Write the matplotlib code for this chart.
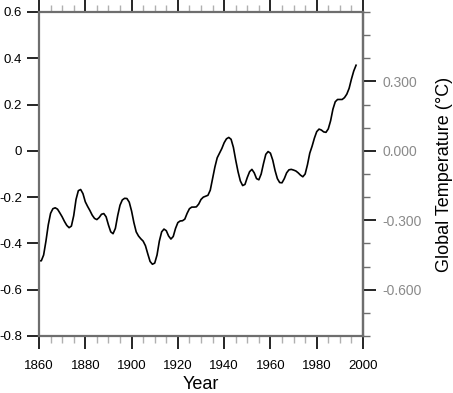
import numpy as np
import matplotlib
matplotlib.use("Agg")
import matplotlib.pyplot as plt
from matplotlib.ticker import MultipleLocator, FixedLocator, FuncFormatter

plt.rcParams['font.family'] = ['Liberation Sans', 'DejaVu Sans']
plt.rcParams['axes.unicode_minus'] = False

# smoothed global temperature anomaly
years = np.arange(1860, 1998)
temps = [
    -0.475, -0.475, -0.45, -0.39, -0.32, -0.27, -0.25, -0.246, -0.252, -0.268,   # 1860s
    -0.285, -0.305, -0.322, -0.332, -0.325, -0.28, -0.21, -0.172, -0.167, -0.185,  # 1870s
    -0.22, -0.24, -0.258, -0.278, -0.292, -0.297, -0.288, -0.274, -0.271, -0.285,  # 1880s
    -0.32, -0.35, -0.358, -0.335, -0.28, -0.235, -0.212, -0.205, -0.206, -0.222,   # 1890s
    -0.26, -0.31, -0.35, -0.368, -0.38, -0.39, -0.41, -0.445, -0.478, -0.49,       # 1900s
    -0.485, -0.45, -0.39, -0.35, -0.338, -0.345, -0.368, -0.381, -0.37, -0.335,    # 1910s
    -0.31, -0.303, -0.302, -0.295, -0.27, -0.25, -0.243, -0.243, -0.242, -0.23,    # 1920s
    -0.21, -0.2, -0.196, -0.192, -0.17, -0.12, -0.07, -0.03, -0.01, 0.01,          # 1930s
    0.035, 0.052, 0.058, 0.05, 0.015, -0.04, -0.09, -0.13, -0.15, -0.145,          # 1940s
    -0.115, -0.09, -0.08, -0.095, -0.12, -0.125, -0.1, -0.055, -0.015, -0.003,     # 1950s
    -0.01, -0.04, -0.085, -0.12, -0.137, -0.138, -0.12, -0.095, -0.082, -0.08,     # 1960s
    -0.083, -0.087, -0.095, -0.105, -0.112, -0.1, -0.06, -0.01, 0.02, 0.055,       # 1970s
    0.083, 0.094, 0.09, 0.082, 0.08, 0.095, 0.13, 0.18, 0.212, 0.222,              # 1980s
    0.222, 0.222, 0.23, 0.245, 0.27, 0.31, 0.345, 0.37,                            # 1990s
]

left_ticks = [-0.8, -0.6, -0.4, -0.2, 0, 0.2, 0.4, 0.6]
right_ticks = [-0.6, -0.3, 0.0, 0.3]

spine_col = '#6e6e6e'
minor_col = '#b0b0b0'

fig = plt.figure(figsize=(4.53, 3.93), dpi=100)
ax = fig.add_axes([39 / 453, 1 - 336 / 393, 324 / 453, 324 / 393])

ax.plot(years, temps, color='black', lw=1.2)
ax.set_xlim(1860, 2000)
ax.set_ylim(-0.8, 0.6)

for s in ax.spines.values():
    s.set_color(spine_col)
    s.set_linewidth(1.6)

# x axis: ticks on bottom and top, outward
ax.xaxis.set_major_locator(MultipleLocator(20))
ax.xaxis.set_minor_locator(MultipleLocator(5))
ax.tick_params(axis='x', which='major', direction='out', length=9, width=1.2,
               color='black', top=True, labelsize=9.5, pad=8)
ax.tick_params(axis='x', which='minor', direction='out', length=5, width=1.0,
               color=minor_col, top=True)

# left y axis
ax.yaxis.set_major_locator(FixedLocator(left_ticks))
ax.yaxis.set_major_formatter(FuncFormatter(lambda v, p: '%g' % round(v, 2)))
ax.tick_params(axis='y', which='major', direction='out', length=9, width=1.2,
               color='black', labelsize=9.5, pad=3)

ax.set_xlabel('Year', fontsize=13, labelpad=3)

# right y axis
ax2 = ax.twinx()
ax2.set_ylim(-0.8, 0.6)
ax2.set_position(ax.get_position())
for s in ax2.spines.values():
    s.set_visible(False)
ax2.spines['right'].set_visible(True)
ax2.spines['right'].set_color(spine_col)
ax2.spines['right'].set_linewidth(1.6)
ax2.yaxis.set_major_locator(FixedLocator(right_ticks))
ax2.yaxis.set_minor_locator(MultipleLocator(0.1))
ax2.yaxis.set_major_formatter(FuncFormatter(lambda v, p: '%.3f' % v))
ax2.tick_params(axis='y', which='major', direction='out', length=9, width=1.2,
                color='black', labelsize=10, labelcolor='#8a8a8a', pad=5)
ax2.tick_params(axis='y', which='minor', direction='out', length=5, width=1.0,
                color=spine_col)
ax2.set_ylabel('Global Temperature (\u00b0C)', fontsize=13, labelpad=10)

fig.savefig('out.png', dpi=100)
